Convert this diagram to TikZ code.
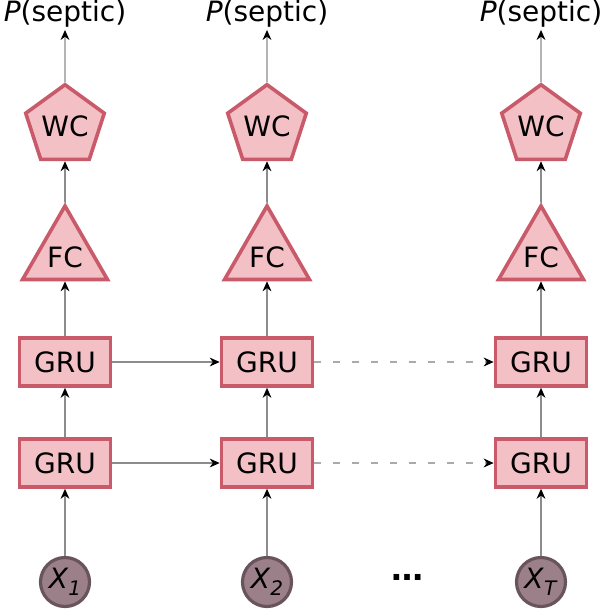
\documentclass[tikz,border=0pt]{standalone}
\usepackage{fontspec}
\setmainfont{DejaVu Sans}
\usetikzlibrary{shapes.geometric,arrows.meta}
\definecolor{boxfill}{RGB}{243,192,198}
\definecolor{boxdraw}{RGB}{200,90,106}
\definecolor{infill}{RGB}{155,128,138}
\definecolor{indraw}{RGB}{105,84,94}
\definecolor{linegray}{RGB}{140,140,140}
\definecolor{dashgray}{RGB}{170,170,170}
\begin{document}
\begin{tikzpicture}[x=0.5pt,y=-0.5pt,
  every node/.style={font=\fontsize{14}{16}\selectfont},
  grubox/.style={draw=boxdraw,fill=boxfill,line width=1.8pt,minimum width=45.5pt,minimum height=24pt,inner sep=0pt},
  fcbox/.style={draw=boxdraw,fill=boxfill,line width=1.8pt,regular polygon,regular polygon sides=3,minimum size=49pt,inner sep=0pt},
  wcbox/.style={draw=boxdraw,fill=boxfill,line width=1.8pt,regular polygon,regular polygon sides=5,minimum size=41pt,inner sep=0pt},
  inbox/.style={draw=indraw,fill=infill,line width=1.6pt,circle,minimum size=24.5pt,inner sep=0pt},
  outtext/.style={inner sep=1pt},
  conn/.style={draw=linegray,line width=0.7pt,-{Stealth[length=5pt,width=4.4pt,inset=1.6pt,color=black]}},
  dconn/.style={conn,draw=dashgray,line width=1pt,dash pattern=on 3.5pt off 6pt}]
\useasboundingbox (0,0) rectangle (600,609);
\foreach \c/\x/\s in {1/65/1,2/267/2,3/541/T}{
  \node[outtext] (p\c) at (\x,14) {\textit{P}(septic)};
  \node[wcbox] (w\c) at (\x,126) {WC};
  \node[fcbox] (f\c) at (\x,255) {};
  \node at (\x,257) {FC};
  \node[grubox] (g\c) at (\x,362) {GRU};
  \node[grubox] (h\c) at (\x,463) {GRU};
  \node[inbox] (x\c) at (\x,582) {\textit{X}\raisebox{-0.45ex}{\fontsize{10}{12}\selectfont\textit{\s}}};
  \draw[conn] (x\c) -- (h\c);
  \draw[conn] (h\c) -- (g\c);
  \draw[conn] (g\c) -- (f\c.south |- g\c.north) -- (f\c.south);
  \draw[conn] (f\c.north) -- (w\c.south |- f\c.north) -- (w\c.south);
  \draw[conn] (w\c.north) -- (p\c.south);
}
\draw[conn] (g1) -- (g2);
\draw[conn] (h1) -- (h2);
\draw[dconn] (g2) -- (g3);
\draw[dconn] (h2) -- (h3);
\node[font=\fontsize{16}{18}\selectfont\bfseries] (dots) at (407,577) {\dots};
\end{tikzpicture}
\end{document}
